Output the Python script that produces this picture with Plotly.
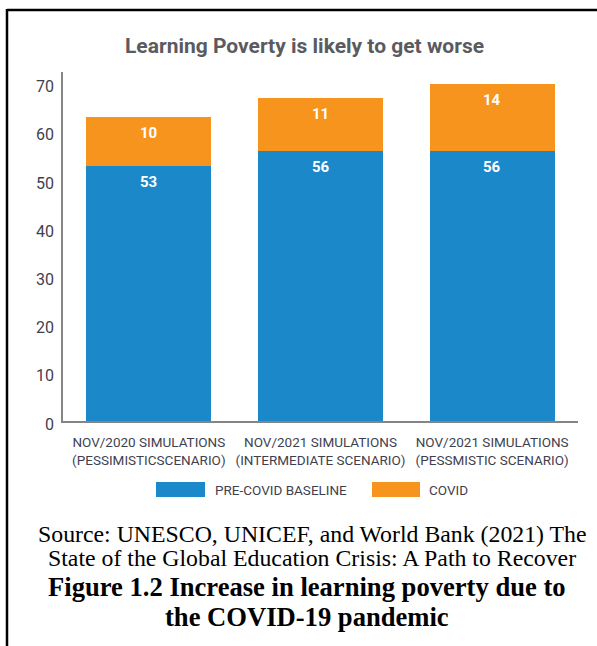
import plotly.graph_objects as go

# Learning poverty simulations (percent of 10-year-olds)
categories = [
    "NOV/2020 SIMULATIONS<br>(PESSIMISTICSCENARIO)",
    "NOV/2021 SIMULATIONS<br>(INTERMEDIATE SCENARIO)",
    "NOV/2021 SIMULATIONS<br>(PESSMISTIC SCENARIO)",
]
baseline_name = "PRE-COVID BASELINE"
covid_name = "COVID"
baseline = [53, 56, 56]
covid = [10, 11, 14]
y_ticks = [0, 10, 20, 30, 40, 50, 60, 70]

title_text = "Learning Poverty is likely to get worse"
source_lines = [
    "Source: UNESCO, UNICEF, and World Bank (2021) The",
    "State of the Global Education Crisis: A Path to Recover",
]
caption_lines = [
    "Figure 1.2 Increase in learning poverty due to",
    "the COVID-19 pandemic",
]

BLUE = "#1a88c9"
ORANGE = "#f7941e"
COND = "Roboto, Liberation Sans, sans-serif"
SERIF = "Liberation Serif, Times New Roman, serif"
TXT = "#3f3f50"

W, H = 597, 646
L, R, T, B = 63, 19, 72, 225
PW, PH = W - L - R, H - T - B


def px(x):
    return (x - L) / PW


def py(y):
    return (H - B - y) / PH


fig = go.Figure()
fig.add_trace(go.Bar(x=categories, y=baseline, name=baseline_name,
                     marker=dict(color=BLUE, line=dict(width=0))))
fig.add_trace(go.Bar(x=categories, y=covid, name=covid_name,
                     marker=dict(color=ORANGE, line=dict(width=0))))

annotations = []
# value labels near the top of each segment
for i, cat in enumerate(categories):
    for base, val in ((0, baseline[i]), (baseline[i], covid[i])):
        annotations.append(dict(
            x=cat, y=base + val, xref="x", yref="y", text=f"<b>{val}</b>",
            showarrow=False, yanchor="top", yshift=-5,
            font=dict(family=COND, size=15, color="white")))

annotations.append(dict(
    x=px(304), y=py(46), xref="paper", yref="paper", text=f"<b>{title_text}</b>",
    showarrow=False, xanchor="center", yanchor="middle",
    font=dict(family=COND, size=21, color="#5b5b5f")))

# legend drawn as swatches with labels
legend_items = [(baseline_name, BLUE, 156, 205, 213), (covid_name, ORANGE, 372, 420, 427)]
shapes = []
for name, color, x0, x1, tx in legend_items:
    shapes.append(dict(type="rect", xref="paper", yref="paper",
                       x0=px(x0), x1=px(x1), y0=py(482), y1=py(497),
                       fillcolor=color, line=dict(width=0)))
    annotations.append(dict(x=px(tx), y=py(489.5), xref="paper", yref="paper",
                            text=name, showarrow=False, xanchor="left", yanchor="middle",
                            font=dict(family=COND, size=13.5, color=TXT)))

for k, line in enumerate(source_lines):
    annotations.append(dict(x=px(312), y=py(534 + 24 * k), xref="paper", yref="paper",
                            text=line, showarrow=False, xanchor="center", yanchor="middle",
                            font=dict(family=SERIF, size=23.8, color="black")))
for k, line in enumerate(caption_lines):
    annotations.append(dict(x=px(307), y=py(587 + 30 * k), xref="paper", yref="paper",
                            text=f"<b>{line}</b>", showarrow=False, xanchor="center",
                            yanchor="middle",
                            font=dict(family=SERIF, size=26.6, color="black")))

# frame lines around the figure
shapes.append(dict(type="line", xref="paper", yref="paper", x0=px(7), x1=px(597),
                   y0=py(10), y1=py(10), line=dict(color="black", width=2.5)))
shapes.append(dict(type="line", xref="paper", yref="paper", x0=px(7), x1=px(7),
                   y0=py(9), y1=py(646), line=dict(color="black", width=2.5)))

fig.update_layout(
    width=W, height=H,
    margin=dict(l=L, r=R, t=T, b=B, autoexpand=False),
    barmode="stack", bargap=0.272,
    showlegend=False,
    plot_bgcolor="white", paper_bgcolor="white",
    annotations=annotations, shapes=shapes,
    xaxis=dict(showline=True, linecolor="#858585", linewidth=1.5, ticks="",
               showgrid=False, tickangle=0, ticklabelstandoff=8,
               tickfont=dict(family=COND, size=13.5, color=TXT),
               fixedrange=True),
    yaxis=dict(range=[0, 72.4], tickvals=y_ticks, showline=True, linecolor="#858585",
               linewidth=1.5, ticks="", showgrid=False, zeroline=False,
               ticklabelstandoff=4, ticklabelshift=3,
               tickfont=dict(family=COND, size=16, color=TXT), fixedrange=True),
)

fig.write_html("out.html", config={"displayModeBar": False})
